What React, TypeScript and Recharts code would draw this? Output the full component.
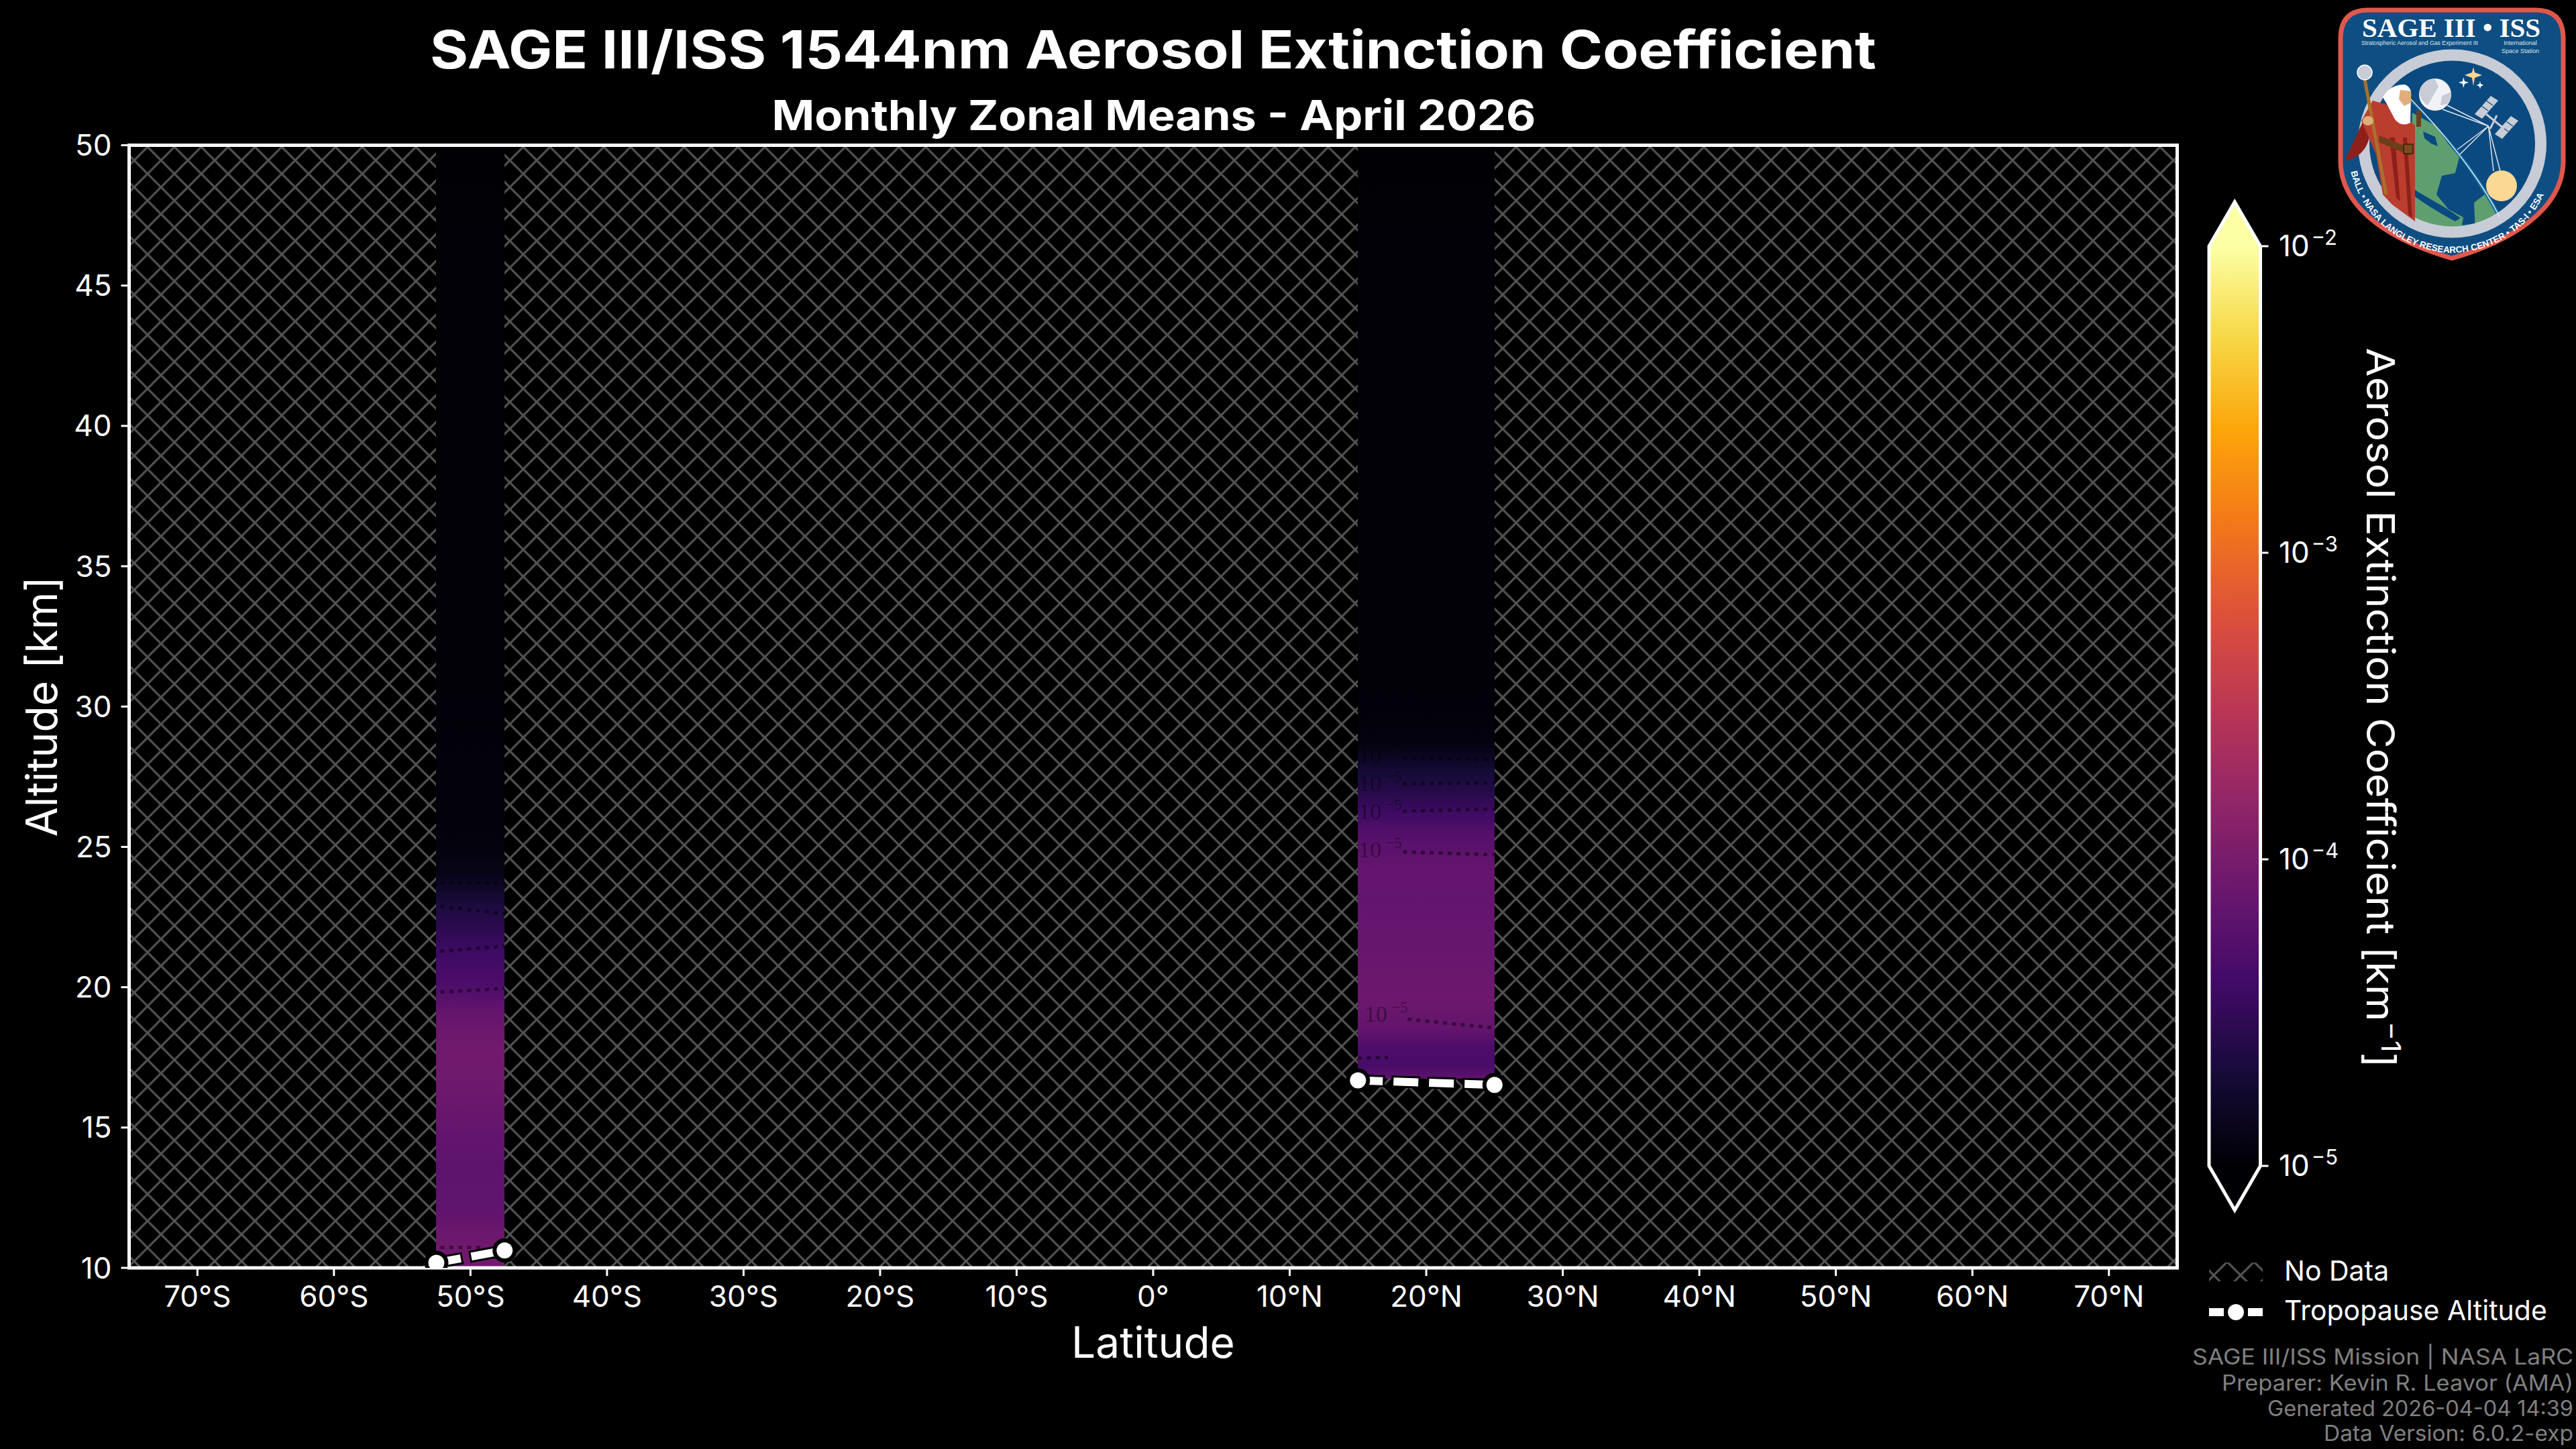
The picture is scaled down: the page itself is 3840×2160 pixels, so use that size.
import React from "react";
import {
  ComposedChart,
  Line,
  XAxis,
  YAxis,
  ReferenceArea,
  ReferenceDot,
} from "recharts";

// ---------- data ----------
const latTicks = [-70, -60, -50, -40, -30, -20, -10, 0, 10, 20, 30, 40, 50, 60, 70];
const altTicks = [10, 15, 20, 25, 30, 35, 40, 45, 50];
const colorbarTicks = [1e-5, 1e-4, 1e-3, 1e-2];
const colorbarEdges = [0, 1];

const southLatEdges = [-52.5, -47.5];
const southAlt = [10, 10.1, 11.2, 12, 13.6, 14.9, 16.7, 17.9, 19.1, 20.1, 21.3, 22, 22.9, 23.5, 24, 24.8, 30, 47, 50];
const southExt = [9e-5, 9e-5, 8.2e-5, 6.7e-5, 6.3e-5, 7.1e-5, 8.6e-5, 9e-5, 7.2e-5, 4.7e-5, 3.7e-5, 2.9e-5, 2.2e-5, 1.65e-5, 1.3e-5, 1.12e-5, 1.07e-5, 1.04e-5, 1.0e-5];

const northLatEdges = [15, 25];
const northAlt = [16.75, 17.2, 17.9, 18.4, 19.6, 21.4, 23.2, 24.2, 25.4, 26.3, 26.9, 27.6, 28.2, 28.7, 30, 47, 50];
const northExt = [6.4e-5, 4.5e-5, 4.8e-5, 6.9e-5, 8.3e-5, 7.6e-5, 7e-5, 7.3e-5, 5.5e-5, 3.6e-5, 2.6e-5, 2e-5, 1.5e-5, 1.15e-5, 1.07e-5, 1.04e-5, 1.0e-5];

const tropopauseSouth = [
  { lat: -52.5, alt: 10.18 },
  { lat: -47.5, alt: 10.62 },
];
const tropopauseNorth = [
  { lat: 15, alt: 16.68 },
  { lat: 25, alt: 16.52 },
];

const contours = [
  [{ lat: -52.2, alt: 23.72 }, { lat: -47.5, alt: 23.72 }],
  [{ lat: -52.2, alt: 22.88 }, { lat: -47.5, alt: 22.62 }],
  [{ lat: -52.2, alt: 21.28 }, { lat: -47.5, alt: 21.47 }],
  [{ lat: -52.2, alt: 19.83 }, { lat: -47.5, alt: 19.95 }],
  [{ lat: -52.2, alt: 10.73 }, { lat: -49.0, alt: 10.73 }],
  [{ lat: 18.3, alt: 28.16 }, { lat: 25, alt: 28.11 }],
  [{ lat: 18.3, alt: 27.25 }, { lat: 25, alt: 27.28 }],
  [{ lat: 18.3, alt: 26.27 }, { lat: 25, alt: 26.35 }],
  [{ lat: 18.3, alt: 24.82 }, { lat: 25, alt: 24.72 }],
  [{ lat: 18.63, alt: 18.86 }, { lat: 24.75, alt: 18.56 }],
  [{ lat: 15, alt: 17.47 }, { lat: 17.2, alt: 17.5 }],
];
const contourLabels = [
  { lat: 15.05, alt: 27.99 },
  { lat: 15.05, alt: 26.99 },
  { lat: 15.05, alt: 26.0 },
  { lat: 15.05, alt: 24.63 },
  { lat: 15.48, alt: 18.78 },
];

const infernoStops = ["#000004", "#160b39", "#420a68", "#6a176e", "#932667", "#bc3754", "#dd513a", "#f37819", "#fca50a", "#f6d746", "#fcffa4"];

const titleText = "SAGE III/ISS 1544nm Aerosol Extinction Coefficient";
const subtitleText = "Monthly Zonal Means - April 2026";
const footerLines = ["SAGE III/ISS Mission | NASA LaRC", "Preparer: Kevin R. Leavor (AMA)", "Generated 2026-04-04 14:39", "Data Version: 6.0.2-exp"];

// ---------- helpers ----------
const FONT = "Inter, 'Noto Sans', sans-serif";

function hex(c: string) {
  return [1, 3, 5].map((i) => parseInt(c.slice(i, i + 2), 16));
}
function extColor(v: number) {
  const t = Math.max(0, Math.min(1, (Math.log10(v) + 5) / 3));
  const p = t * (infernoStops.length - 1);
  const i = Math.min(infernoStops.length - 2, Math.floor(p));
  const f = p - i;
  const a = hex(infernoStops[i]);
  const b = hex(infernoStops[i + 1]);
  const m = a.map((x, k) => Math.round(x + (b[k] - x) * f));
  return `rgb(${m[0]},${m[1]},${m[2]})`;
}
const latLabel = (v: number) => (v === 0 ? "0°" : `${Math.abs(v)}°${v < 0 ? "S" : "N"}`);
const chartData = latTicks.map((lat) => ({ lat }));

function columnDefs(id: string, ext: number[]) {
  return ext.slice(0, -1).map((v, i) => (
    <linearGradient key={id + i} id={`${id}-${i}`} x1="0" y1="1" x2="0" y2="0">
      <stop offset="0" stopColor={extColor(v)} />
      <stop offset="1" stopColor={extColor(ext[i + 1])} />
    </linearGradient>
  ));
}
function columnCells(id: string, edges: number[], alt: number[]) {
  return alt.slice(0, -1).map((a, i) => (
    <ReferenceArea
      key={id + i}
      x1={edges[0]}
      x2={edges[1]}
      y1={a}
      y2={alt[i + 1]}
      fill={`url(#${id}-${i})`}
      fillOpacity={1}
      stroke="none"
      shapeRendering="crispEdges"
      ifOverflow="visible"
    />
  ));
}

function contourLabelShape(props: any) {
  return (
    <text x={props.cx} y={props.cy} fontFamily="'Liberation Serif', serif" fill="#000" fillOpacity={0.4} fontSize={34}>
      10
      <tspan dx={6} dy={-14} fontSize={23}>
        −5
      </tspan>
    </text>
  );
}

function tropopauseSeries(key: string, data: any[]) {
  return [
    <Line
      key={key + "o"}
      data={data}
      dataKey="alt"
      stroke="#000"
      strokeWidth={18}
      strokeDasharray="43 10"
      strokeDashoffset={3}
      dot={false}
      legendType="none"
      isAnimationActive={false}
    />,
    <Line
      key={key + "w"}
      data={data}
      dataKey="alt"
      stroke="#fff"
      strokeWidth={12}
      strokeDasharray="37 16"
      dot={{ r: 15, fill: "#fff", stroke: "#000", strokeWidth: 6, strokeDasharray: "none" }}
      legendType="none"
      isAnimationActive={false}
    />,
  ];
}

function ColorbarShape(props: any) {
  const { x, y, width, height } = props;
  const r = x + width;
  const b = y + height;
  const cx = x + width / 2;
  const tip = 66;
  return (
    <g>
      <rect x={x} y={y} width={width} height={height} fill="url(#infernoBar)" />
      <polygon points={`${x},${y} ${cx},${y - tip} ${r},${y}`} fill="#fcffa4" />
      <polygon points={`${x},${b} ${cx},${b + tip} ${r},${b}`} fill="#000004" />
      <polygon
        points={`${x},${y} ${cx},${y - tip} ${r},${y} ${r},${b} ${cx},${b + tip} ${x},${b}`}
        fill="none"
        stroke="#fff"
        strokeWidth={5}
        strokeLinejoin="miter"
      />
    </g>
  );
}

function ColorbarTick(props: any) {
  const exp = Math.round(Math.log10(props.payload.value));
  return (
    <text x={3397} y={props.y + 15} fill="#fff" fontFamily={FONT} fontSize={44}>
      10
      <tspan dx={3} dy={-17} fontSize={31}>
        {`−${Math.abs(exp)}`}
      </tspan>
    </text>
  );
}

function Logo() {
  const cx = 3655.5;
  const cy = 214;
  const sans = "'Liberation Sans', sans-serif";
  return (
    <g>
      <defs>
        <clipPath id="logoInner">
          <circle cx={cx} cy={cy} r={126} />
        </clipPath>
        <path id="logoArc" d="M3503,250 C3522,340 3600,376 3655,377 C3716,376 3792,340 3808,236" fill="none" />
      </defs>
      <path
        d="M3530,15 H3780 Q3821,15 3821,58 V240 C3821,316 3735,362 3655,385 C3575,362 3489,316 3489,240 V58 Q3489,15 3530,15 Z"
        fill="#0e4e82"
        stroke="#e0574b"
        strokeWidth={7}
      />
      <circle cx={cx} cy={cy} r={126} fill="#0a4a80" />
      <g clipPath="url(#logoInner)">
        <path d="M3580,135 C3640,190 3700,260 3740,345 L3560,345 L3560,135 Z" fill="#1472a6" />
        <path d="M3580,140 C3632,185 3690,258 3726,330 L3560,345 L3560,140 Z" fill="#0a4a80" />
        <path d="M3596,168 L3630,187 L3650,215 L3666,234 L3660,258 L3640,262 L3632,290 L3650,312 L3672,324 L3668,345 L3590,345 Z" fill="#5f9f6f" />
        <path d="M3688,302 L3704,290 L3726,328 L3690,345 Z" fill="#5f9f6f" />
        <path d="M3612,196 l18,8 l4,14 l-10,-4 l-10,-8 Z" fill="#0a4a80" />
        <path d="M3600,283 C3620,296 3640,305 3668,325 L3660,330 C3632,315 3612,302 3600,293 Z" fill="#0a4a80" />
      </g>
      <circle cx={cx} cy={cy} r={132} fill="none" stroke="#c7ccd6" strokeWidth={17} />
      <g stroke="#dfe4ea" strokeWidth={1.5} fill="none">
        <line x1={3648} y1={157} x2={3709.5} y2={188} />
        <line x1={3641} y1={163} x2={3709.5} y2={188} />
        <line x1={3663} y1={223} x2={3709.5} y2={188} />
        <line x1={3667} y1={230} x2={3709.5} y2={188} />
        <line x1={3717} y1={255} x2={3709.5} y2={188} />
        <line x1={3727} y1={255} x2={3709.5} y2={188} />
        <path d="M3593,147 C3640,195 3695,262 3726,323" />
      </g>
      <circle cx={3630} cy={141} r={24} fill="#f1f2f5" />
      <path d="M3607,135 a24,24 0 0 1 22,-18 l6,12 l-8,14 l-8,14 a24,24 0 0 1 -12,-22 Z" fill="#c7ccd6" />
      <path d="M3640,143 l14,-6 a24,24 0 0 1 -6,18 l-10,2 Z" fill="#c7ccd6" />
      <circle cx={3729} cy={277} r={23} fill="#fbd992" />
      <path d="M3714,259 a23,23 0 0 0 12,40 a23,23 0 0 1 -12,-40 Z" fill="#c7ccd6" />
      <polygon points="3713,143 3724,150 3700,177 3689,170" fill="#c7ccd6" />
      <polygon points="3743,173 3754,180 3730,207 3719,200" fill="#c7ccd6" />
      <g stroke="#0a4a80" strokeWidth={1.2}>
        <line x1={3706} y1={150} x2={3716} y2={157} />
        <line x1={3699} y1={158} x2={3709} y2={165} />
        <line x1={3736} y1={181} x2={3746} y2={188} />
        <line x1={3729} y1={189} x2={3739} y2={196} />
      </g>
      <line x1={3706} y1={170} x2={3733} y2={192} stroke="#c7ccd6" strokeWidth={3} />
      <line x1={3722} y1={172} x2={3712} y2={192} stroke="#c7ccd6" strokeWidth={3} />
      <polygon points="3685,108 3687,100 3689,108 3700,112 3689,116 3687,128 3685,116 3674,112" fill="#fbd992" />
      <polygon points="3671,121 3672,115 3674,121 3680,123 3674,125 3672,131 3671,125 3665,123" fill="#fff" />
      <polygon points="3696,125 3697,121 3698,125 3702,127 3698,129 3697,133 3696,129 3692,127" fill="#fff" />
      <path d="M3537,150 L3495,240 C3515,235 3527,225 3532,205 L3545,170 Z" fill="#8f2019" />
      <path d="M3537,150 L3572,160 L3600,187 L3600,330 L3566,305 L3552,290 L3542,230 L3520,180 Z" fill="#bb3d2e" />
      <path d="M3562,205 L3572,295 L3578,300 L3570,205 Z" fill="#8f2019" />
      <path d="M3582,205 L3590,320 L3596,325 L3588,205 Z" fill="#8f2019" />
      <path d="M3547,202 L3595,222 L3593,232 L3546,212 Z" fill="#6e3d1a" />
      <rect x={3583} y={215} width={14} height={14} fill="#7a4a20" stroke="#3b1e0b" strokeWidth={1.5} />
      <rect x={3602} y={165} width={7} height={24} fill="#6e3d1a" />
      <path d="M3552,145 Q3562,126 3585,126 Q3596,130 3594,145 L3593,183 Q3580,190 3570,178 L3558,155 Z" fill="#fff" />
      <path d="M3578,134 L3594,136 L3594,153 L3584,158 L3576,148 Z" fill="#dfae7c" />
      <line x1={3525} y1={118} x2={3557} y2={290} stroke="#a9702d" strokeWidth={5} />
      <circle cx={3525} cy={108} r={11} fill="#c7ccd6" stroke="#fff" strokeWidth={1.5} />
      <ellipse cx={3530} cy={180} rx={8} ry={7} fill="#dfae7c" />
      <text x={3521} y={55} fontFamily="'Liberation Serif', serif" fontWeight={700} fontSize={40} fill="#fff" textLength={266} lengthAdjust="spacingAndGlyphs">
        SAGE III • ISS
      </text>
      <text x={3520} y={67} fontFamily={sans} fontSize={8.5} fill="#dfe6ee" textLength={174} lengthAdjust="spacingAndGlyphs">
        Stratospheric Aerosol and Gas Experiment III
      </text>
      <text x={3757} y={67} fontFamily={sans} fontSize={9} fill="#dfe6ee" textAnchor="middle">
        International
      </text>
      <text x={3757} y={79} fontFamily={sans} fontSize={9} fill="#dfe6ee" textAnchor="middle">
        Space Station
      </text>
      <text fontFamily={sans} fontWeight={700} fontSize={13.5} fill="#fff">
        <textPath href="#logoArc" startOffset="6">
          BALL • NASA LANGLEY RESEARCH CENTER • TAS-I • ESA
        </textPath>
      </text>
    </g>
  );
}

export default function App() {
  return (
    <div style={{ position: "absolute", left: 0, top: 0, width: 3840, height: 2160, background: "#000", overflow: "hidden" }}>
      <div style={{ position: "absolute", left: 0, top: 0 }}>
        <ComposedChart
          width={3840}
          height={2160}
          data={chartData}
          margin={{ left: 92.5, right: 594.5, top: 216.5, bottom: 170 }}
        >
          <defs>
            <pattern id="hatch" width={40} height={40.025} patternUnits="userSpaceOnUse" patternTransform="translate(0,199)">
              <path d="M0,0 L40,40.025 M0,40.025 L40,0" stroke="#525252" strokeWidth={3.2} />
            </pattern>
            {columnDefs("south", southExt)}
            {columnDefs("north", northExt)}
          </defs>
          <XAxis
            dataKey="lat"
            type="number"
            domain={[-75, 75]}
            ticks={latTicks}
            tickFormatter={latLabel}
            allowDataOverflow
            height={100}
            interval={0}
            tick={{ fill: "#fff", fontSize: 44, fontFamily: FONT }}
            tickLine={{ stroke: "#fff", strokeWidth: 3 }}
            tickSize={12}
            tickMargin={15}
            axisLine={false}
            label={{ value: "Latitude", position: "insideBottom", offset: -34, fill: "#fff", fontSize: 64, fontFamily: FONT }}
          />
          <YAxis
            type="number"
            domain={[10, 50]}
            ticks={altTicks}
            allowDataOverflow
            width={100}
            interval={0}
            tick={{ fill: "#fff", fontSize: 44, fontFamily: FONT }}
            tickLine={{ stroke: "#fff", strokeWidth: 3 }}
            tickSize={12}
            tickMargin={14}
            axisLine={false}
            label={{ value: "Altitude [km]", angle: -90, position: "insideLeft", offset: -30, fill: "#fff", fontSize: 64, fontFamily: FONT, style: { textAnchor: "middle" } }}
          />
          <ReferenceArea x1={-75} x2={75} y1={10} y2={50} fill="url(#hatch)" fillOpacity={1} stroke="none" ifOverflow="visible" />
          {columnCells("south", southLatEdges, southAlt)}
          {columnCells("north", northLatEdges, northAlt)}
          {contours.map((c, i) => (
            <Line
              key={"contour" + i}
              data={c}
              dataKey="alt"
              stroke="#000"
              strokeOpacity={0.45}
              strokeWidth={5}
              strokeDasharray="6 7.3"
              dot={false}
              legendType="none"
              isAnimationActive={false}
            />
          ))}
          {contourLabels.map((l, i) => (
            <ReferenceDot key={"cl" + i} x={l.lat} y={l.alt} r={0} shape={contourLabelShape} ifOverflow="visible" />
          ))}
          {tropopauseSeries("ts", tropopauseSouth)}
          {tropopauseSeries("tn", tropopauseNorth)}
          <ReferenceArea x1={-75} x2={75} y1={10} y2={50} fill="none" stroke="#fff" strokeWidth={5} ifOverflow="visible" />
        </ComposedChart>
      </div>

      <div style={{ position: "absolute", left: 0, top: 0 }}>
        <ComposedChart
          width={3840}
          height={2160}
          data={colorbarEdges.map((x) => ({ x }))}
          margin={{ left: 3293, right: 370.5, top: 367, bottom: 422 }}
        >
          <defs>
            <linearGradient id="infernoBar" x1="0" y1="1" x2="0" y2="0">
              {infernoStops.map((c, i) => (
                <stop key={i} offset={i / (infernoStops.length - 1)} stopColor={c} />
              ))}
            </linearGradient>
          </defs>
          <XAxis dataKey="x" type="number" domain={[0, 1]} allowDataOverflow hide />
          <YAxis
            orientation="right"
            type="number"
            scale="log"
            domain={[1e-5, 1e-2]}
            ticks={colorbarTicks}
            allowDataOverflow
            width={100}
            interval={0}
            tick={ColorbarTick}
            tickLine={{ stroke: "#fff", strokeWidth: 3 }}
            tickSize={12}
            axisLine={false}
          />
          <ReferenceArea x1={0} x2={1} y1={1e-5} y2={1e-2} shape={ColorbarShape} ifOverflow="visible" />
        </ComposedChart>
      </div>

      <svg width={3840} height={2160} style={{ position: "absolute", left: 0, top: 0, pointerEvents: "none" }}>
        <defs>
          <pattern id="hatchLegend" width={40} height={40} patternUnits="userSpaceOnUse" patternTransform="translate(0,1)">
            <path d="M0,0 L40,40 M0,40 L40,0" stroke="#525252" strokeWidth={3.2} />
          </pattern>
        </defs>
        <text x={1719} y={102} textAnchor="middle" fontFamily={FONT} fontWeight={700} fontSize={78} fill="#fff" textLength={2156} lengthAdjust="spacingAndGlyphs">
          {titleText}
        </text>
        <text x={1720} y={194} textAnchor="middle" fontFamily={FONT} fontWeight={700} fontSize={62} fill="#fff" textLength={1139} lengthAdjust="spacingAndGlyphs">
          {subtitleText}
        </text>
        <text x={3548} y={1055} textAnchor="middle" transform="rotate(90 3548 1055)" dy={20} fontFamily={FONT} fontSize={58} fill="#fff" textLength={1073} lengthAdjust="spacingAndGlyphs">
          {"Aerosol Extinction Coefficient [km"}
          <tspan dy={-22} fontSize={40}>−1</tspan>
          <tspan dy={22}>]</tspan>
        </text>

        <rect x={3293} y={1882} width={80} height={28} fill="url(#hatchLegend)" />
        <text x={3405} y={1909} fontFamily={FONT} fontSize={41} fill="#fff">No Data</text>
        <rect x={3293} y={1950} width={22} height={12} fill="#fff" />
        <rect x={3351} y={1950} width={22} height={12} fill="#fff" />
        <circle cx={3333} cy={1956} r={12} fill="#fff" />
        <text x={3405} y={1968} fontFamily={FONT} fontSize={41} fill="#fff">Tropopause Altitude</text>

        {footerLines.map((t, i) => (
          <text
            key={i}
            x={3836 - [568, 524, 456, 372][i]}
            y={[2034, 2073, 2111, 2148][i]}
            fontFamily={FONT}
            fontSize={32}
            fill="#808080"
            textLength={[568, 524, 456, 372][i]}
            lengthAdjust="spacingAndGlyphs"
          >
            {t}
          </text>
        ))}
        <Logo />
      </svg>
    </div>
  );
}
